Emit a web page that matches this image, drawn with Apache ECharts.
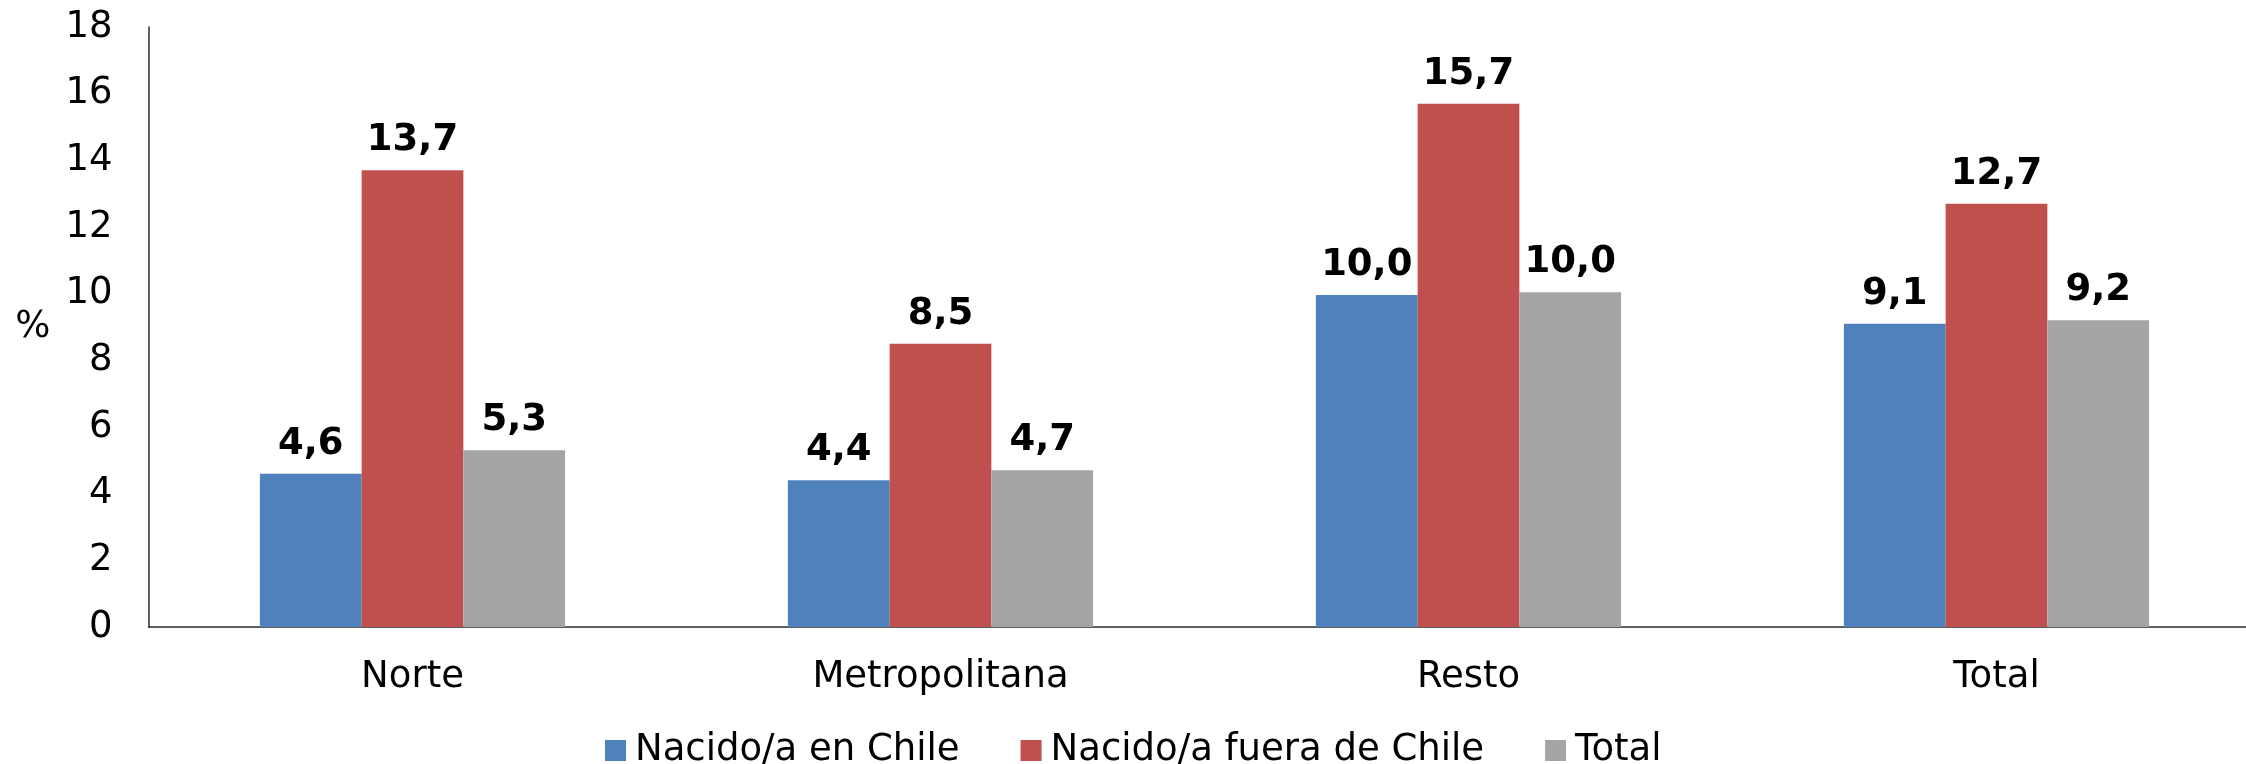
<!DOCTYPE html>
<html>
<head>
<meta charset="utf-8">
<script src="https://cdn.jsdelivr.net/npm/echarts@6/dist/echarts.min.js"></script>
<style>
  html, body { margin: 0; padding: 0; background: #fff; overflow: hidden; }
  #chart { width: 2246px; height: 764px; }
</style>
</head>
<body>
<div id="chart"></div>
<script>
// Regions and series values (%)
const categories = ['Norte', 'Metropolitana', 'Resto', 'Total'];
const seriesNames = ['Nacido/a en Chile', 'Nacido/a fuera de Chile', 'Total'];
const nacidoEnChile = [4.6, 4.4, 9.96, 9.1];
const nacidoFueraDeChile = [13.7, 8.5, 15.7, 12.7];
const totalValues = [5.3, 4.7, 10.04, 9.2];
const colors = ['#4F81BD', '#C0504D', '#A5A5A5'];

const FONT = '"DejaVu Sans", Verdana, sans-serif';
const FS = 37;

function makeSeries(name, data, color) {
  return {
    name: name,
    type: 'bar',
    data: data,
    barGap: '0%',
    barCategoryGap: '42.2%',
    itemStyle: { color: color },
    label: {
      show: true,
      position: 'top',
      distance: 11,
      color: '#000',
      fontFamily: FONT,
      fontWeight: 'bold',
      fontSize: FS,
      formatter: p => p.value.toFixed(1).replace('.', ',')
    }
  };
}

const chart = echarts.init(document.getElementById('chart'));
chart.setOption({
  animation: false,
  backgroundColor: '#fff',
  textStyle: { fontFamily: FONT },
  // the plot area runs slightly past the right edge of the canvas
  grid: {
    left: 148.5, width: 2112, top: 27, bottom: 137,
    containLabel: false, outerBoundsMode: 'none'
  },
  legend: {
    data: seriesNames,
    left: 600,
    top: 727,
    icon: 'rect',
    itemWidth: 21,
    itemHeight: 21,
    itemGap: 61,
    textStyle: { fontFamily: FONT, fontSize: FS, color: '#000', padding: [0, 0, 0, 4] }
  },
  xAxis: {
    type: 'category',
    data: categories,
    axisLine: { lineStyle: { color: '#2b2b2b', width: 1.5 } },
    axisTick: { show: false },
    axisLabel: { fontFamily: FONT, fontSize: FS, color: '#000', margin: 32 }
  },
  yAxis: {
    type: 'value',
    min: 0,
    max: 18,
    interval: 2,
    name: '%',
    nameLocation: 'middle',
    nameRotate: 0,
    nameGap: 98,
    nameTextStyle: { fontFamily: FONT, fontSize: FS, color: '#000' },
    axisLine: { show: true, lineStyle: { color: '#2b2b2b', width: 1.5 } },
    axisTick: { show: false },
    splitLine: { show: false },
    axisLabel: { fontFamily: FONT, fontSize: FS, color: '#000', margin: 36 }
  },
  series: [
    makeSeries(seriesNames[0], nacidoEnChile, colors[0]),
    makeSeries(seriesNames[1], nacidoFueraDeChile, colors[1]),
    makeSeries(seriesNames[2], totalValues, colors[2])
  ]
});
</script>
</body>
</html>
